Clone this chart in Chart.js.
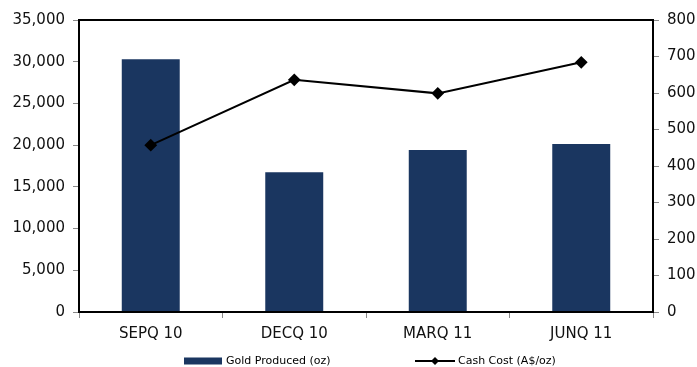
<!DOCTYPE html>
<html><head><meta charset="utf-8">
<script src="https://cdn.jsdelivr.net/npm/chart.js@4"></script>
<style>html,body{margin:0;padding:0;background:#fff}#wrap{width:697px;height:367px}</style>
</head><body><div id="wrap"><canvas id="c" width="697" height="367"></canvas></div>
<script>
const categories = ['SEPQ 10', 'DECQ 10', 'MARQ 11', 'JUNQ 11'];
const goldProduced = [30300, 16750, 19420, 20140];
const cashCost = [457, 636, 599, 684];
const seriesNames = ['Gold Produced (oz)', 'Cash Cost (A$/oz)'];

const FONT = '"DejaVu Sans", Verdana, sans-serif';

const framePlugin = {
  id: 'frame',
  afterDraw(chart) {
    const {ctx, chartArea: a} = chart;
    ctx.save();
    ctx.strokeStyle = '#000';
    ctx.lineWidth = 2;
    ctx.strokeRect(a.left, a.top, a.right - a.left, a.bottom - a.top);
    // legend
    ctx.font = '11px ' + FONT;
    ctx.textBaseline = 'middle';
    ctx.fillStyle = '#1a3660';
    const ly = 361;
    ctx.fillRect(184, ly - 3.5, 38, 7);
    ctx.fillStyle = '#000';
    ctx.fillText(seriesNames[0], 226, ly);
    ctx.beginPath();
    ctx.moveTo(415, ly); ctx.lineTo(455, ly);
    ctx.lineWidth = 2; ctx.strokeStyle = '#000'; ctx.stroke();
    ctx.beginPath();
    ctx.moveTo(435, ly - 4); ctx.lineTo(439, ly); ctx.lineTo(435, ly + 4); ctx.lineTo(431, ly); ctx.closePath();
    ctx.fill();
    ctx.fillText(seriesNames[1], 458, ly);
    ctx.restore();
  }
};

new Chart(document.getElementById('c'), {
  data: {
    labels: categories,
    datasets: [
      {
        type: 'line', label: seriesNames[1], data: cashCost, yAxisID: 'y2',
        borderColor: '#000', backgroundColor: '#000', borderWidth: 2,
        pointStyle: 'rectRot', pointRadius: 5, pointHoverRadius: 5, tension: 0, order: 0
      },
      {
        type: 'bar', label: seriesNames[0], data: goldProduced, yAxisID: 'y',
        backgroundColor: '#1a3660', categoryPercentage: 0.404, barPercentage: 1.0, order: 1
      }
    ]
  },
  options: {
    responsive: false, animation: false, devicePixelRatio: 1,
    layout: {padding: {top: 20, left: 0, right: 0, bottom: 0}},
    plugins: {legend: {display: false}, tooltip: {enabled: false}},
    scales: {
      x: {
        offset: true,
        grid: {offset: true, drawOnChartArea: false, tickLength: 6, color: '#888', lineWidth: 1},
        border: {display: true, color: '#000', width: 2},
        ticks: {color: '#111', font: {family: FONT, size: 15}, padding: 7},
        afterFit(s) { s.height = 55; }
      },
      y: {
        position: 'left', min: 0, max: 35000,
        ticks: {stepSize: 5000, color: '#111', font: {family: FONT, size: 15}, padding: 8,
          callback: v => v.toLocaleString('en-US')},
        grid: {drawOnChartArea: false, tickLength: 6, color: '#888'},
        border: {display: true, color: '#000', width: 2},
        afterFit(s) { s.width = 79; }
      },
      y2: {
        position: 'right', min: 0, max: 800,
        ticks: {stepSize: 100, color: '#111', font: {family: FONT, size: 15}, padding: 8},
        grid: {drawOnChartArea: false, tickLength: 6, color: '#888'},
        border: {display: true, color: '#000', width: 2},
        afterFit(s) { s.width = 44; }
      }
    }
  },
  plugins: [framePlugin]
});
</script></body></html>
